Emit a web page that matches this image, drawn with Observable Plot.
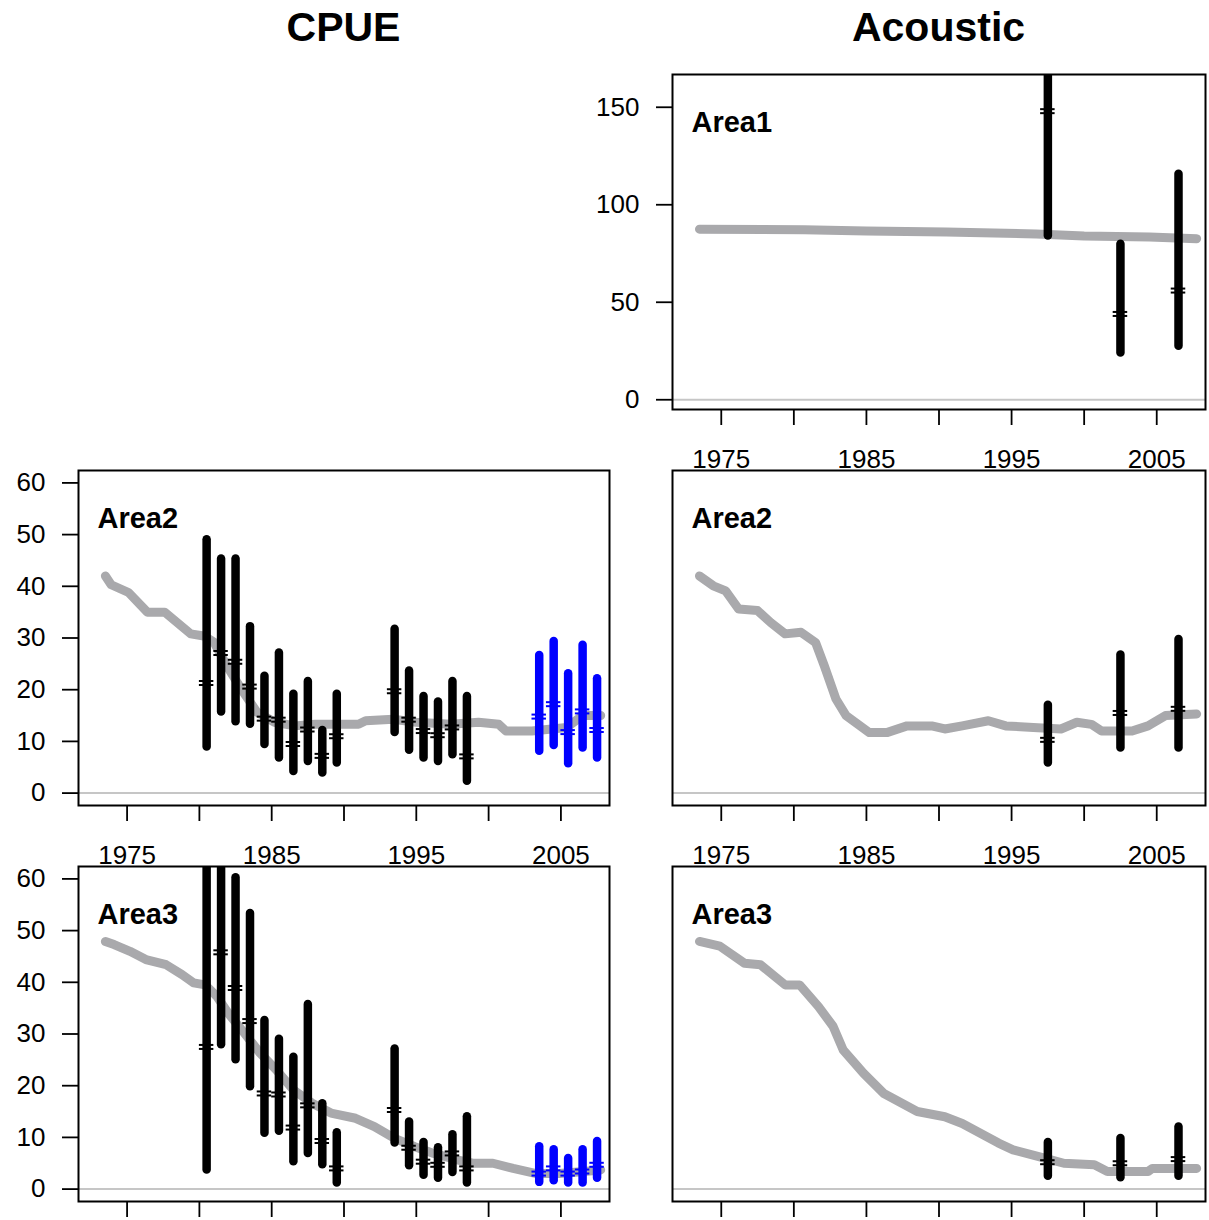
<!DOCTYPE html>
<html>
<head>
<meta charset="utf-8">
<script src="https://cdn.jsdelivr.net/npm/d3@7"></script>
<script src="https://cdn.jsdelivr.net/npm/@observablehq/plot@0.6"></script>
<style>
  body { margin: 0; width: 1209px; height: 1220px; overflow: hidden; background: white; position: relative; font-family: "Liberation Sans", Arial, sans-serif; }
  .ttl { position: absolute; top: 7px; font-size: 41px; font-weight: bold; line-height: 1; text-align: center; color: black; }
  .pnl { position: absolute; }
</style>
</head>
<body>
<div id="root"></div>
<script>
// ---------------- data ----------------
const columnTitles = ["CPUE", "Acoustic"];
const xDomain = [1971.64, 2008.36];
const xTickYears = [1975, 1980, 1985, 1990, 1995, 2000, 2005];
const xLabelYears = [1975, 1985, 1995, 2005];
const yTicksSmall = [0, 10, 20, 30, 40, 50, 60];
const yTicksLarge = [0, 50, 100, 150];
const yDomainSmall = [-2.4, 62.4];
const yDomainLarge = [-5.0, 166.8];

// CPUE survey years (mid-year) and group (old series / recent series)
const cpueYears = [1980.5, 1981.5, 1982.5, 1983.5, 1984.5, 1985.5, 1986.5, 1987.5, 1988.5, 1989.5,
                   1993.5, 1994.5, 1995.5, 1996.5, 1997.5, 1998.5,
                   2003.5, 2004.5, 2005.5, 2006.5, 2007.5];
const cpueGroup = ["old","old","old","old","old","old","old","old","old","old",
                   "old","old","old","old","old","old",
                   "recent","recent","recent","recent","recent"];

const cpueArea2Est = [21.3, 27.1, 25.4, 20.6, 14.4, 14.2, 9.5, 12.3, 7.2, 11.0, 19.7, 14.2, 12.0, 11.2, 12.7, 7.1, 14.8, 17.2, 11.8, 15.8, 12.2];
const cpueArea2Lo  = [8.9, 15.7, 13.8, 13.3, 9.4, 6.8, 4.2, 6.1, 3.9, 5.8, 11.7, 8.3, 6.8, 6.1, 7.4, 2.3, 8.1, 9.2, 5.7, 8.7, 6.8];
const cpueArea2Hi  = [49.0, 45.3, 45.3, 32.2, 22.6, 27.1, 19.1, 21.6, 12.1, 19.1, 31.7, 23.6, 18.7, 17.6, 21.6, 18.7, 26.6, 29.3, 23.1, 28.6, 22.1];

const cpueArea3Est = [27.5, 45.8, 38.9, 32.5, 18.5, 18.3, 11.9, 16.2, 9.3, 4.0, 15.3, 8.0, 5.3, 4.7, 6.9, 4.0, 3.0, 4.0, 3.0, 3.4, 4.7];
const cpueArea3Lo  = [3.7, 27.9, 25.0, 19.8, 10.8, 11.2, 5.3, 6.9, 4.7, 1.2, 8.9, 4.5, 2.7, 2.1, 3.2, 1.2, 1.3, 1.6, 1.2, 1.2, 2.1];
const cpueArea3Hi  = [70.0, 68.0, 60.2, 53.3, 32.6, 29.0, 25.5, 35.7, 16.5, 10.9, 27.1, 13.0, 9.0, 8.0, 10.5, 14.0, 8.2, 7.6, 5.9, 7.6, 9.2];

// Acoustic survey years
const acYears = [1997.5, 2002.5, 2006.5];
const acGroup = ["old", "old", "old"];
const acArea1Est = [148.0, 44.0, 56.0];
const acArea1Lo  = [84.0, 24.0, 27.4];
const acArea1Hi  = [185.0, 79.7, 115.7];
const acArea2Est = [10.3, 15.5, 16.3];
const acArea2Lo  = [5.8, 8.7, 8.7];
const acArea2Hi  = [17.0, 26.7, 29.7];
const acArea3Est = [5.2, 5.0, 5.8];
const acArea3Lo  = [2.5, 2.2, 2.5];
const acArea3Hi  = [9.0, 9.8, 12.0];

// Fitted trajectories (year, value)
const fitCpueArea2Year = [1973.5, 1973.9, 1975.1, 1976.4, 1977.6, 1979.4, 1980.3, 1981.0, 1981.9, 1982.9, 1984.0, 1985.2, 1986.6, 1988.0, 1991.0, 1991.5, 1993.4, 1995.0, 1997.4, 1999.3, 2000.7, 2001.2, 2003.0, 2005.4, 2006.5, 2007.75];
const fitCpueArea2Val  = [42.0, 40.3, 38.8, 35.0, 35.0, 30.8, 30.4, 29.2, 24.6, 20.1, 15.6, 13.7, 13.0, 13.3, 13.3, 14.0, 14.3, 13.7, 13.3, 13.7, 13.3, 12.0, 12.0, 12.7, 15.0, 15.0];

const fitAcArea2Year = [1973.5, 1974.45, 1975.3, 1976.2, 1977.5, 1978.4, 1979.4, 1980.5, 1981.5, 1982.1, 1982.9, 1983.6, 1985.2, 1986.4, 1987.8, 1989.5, 1990.4, 1991.6, 1993.4, 1994.6, 1996.5, 1998.4, 1999.5, 2000.5, 2001.2, 2003.3, 2004.4, 2005.6, 2007.75];
const fitAcArea2Val  = [42.0, 40.1, 39.1, 35.6, 35.3, 33.0, 30.8, 31.1, 29.1, 24.6, 18.2, 15.0, 11.7, 11.7, 13.0, 13.0, 12.4, 13.0, 14.0, 13.0, 12.7, 12.4, 13.7, 13.3, 12.0, 12.0, 13.0, 15.0, 15.3];

const fitCpueArea3Year = [1973.5, 1974.1, 1975.2, 1976.3, 1977.7, 1978.8, 1979.6, 1980.4, 1981.2, 1982.0, 1983.1, 1984.2, 1985.3, 1986.5, 1987.8, 1989.1, 1990.8, 1992.1, 1993.5, 1994.9, 1996.2, 1997.9, 1998.9, 2000.3, 2001.7, 2003.3, 2004.9, 2006.6, 2007.75];
const fitCpueArea3Val  = [47.9, 47.3, 46.0, 44.4, 43.4, 41.5, 39.9, 39.5, 37.3, 34.0, 30.2, 26.3, 23.1, 19.2, 16.6, 14.7, 13.7, 12.1, 9.8, 8.2, 6.9, 5.6, 5.0, 5.0, 4.0, 3.0, 3.0, 3.4, 3.7];

const fitAcArea3Year = [1973.5, 1974.9, 1976.6, 1977.7, 1979.4, 1980.4, 1981.7, 1982.7, 1983.4, 1984.8, 1986.2, 1988.5, 1990.4, 1991.6, 1994.1, 1995.1, 1997.4, 1998.6, 2000.7, 2001.6, 2004.4, 2004.7, 2007.75];
const fitAcArea3Val  = [47.9, 47.0, 43.7, 43.4, 39.5, 39.5, 35.3, 31.5, 26.9, 22.4, 18.5, 15.0, 14.0, 12.7, 8.9, 7.6, 5.9, 5.0, 4.7, 3.4, 3.4, 4.0, 4.0];

const fitAcArea1Year = [1973.5, 1980.7, 1985.0, 1990.5, 1996.7, 2000.0, 2004.5, 2007.75];
const fitAcArea1Val  = [87.5, 87.2, 86.6, 86.0, 85.0, 84.0, 83.5, 82.6];

// ---------------- helpers ----------------
const zip2 = (xs, ys) => xs.map((x, i) => ({year: x, value: ys[i]}));
const barsTable = (years, est, lo, hi, group) =>
  years.map((y, i) => ({year: y, est: est[i], lo: lo[i], hi: hi[i], group: group[i]}));

const FONT = "'Liberation Sans', Arial, sans-serif";
const COL = {
  cpue: {left: 0, width: 612, marginLeft: 78, marginRight: 3},
  ac:   {left: 600, width: 608, marginLeft: 72, marginRight: 3}
};
const ROW_FRAME_TOP = [74, 470, 866];
const FRAME_H = 335, MT = 10, MB = 62;

function panel({col, row, label, yDomain, yTicks, showY, showXLabels, fit, bars}) {
  const c = COL[col];
  const marks = [
    Plot.ruleY([0], {stroke: "#c6c6c6", strokeWidth: 2}),
    Plot.line(fit, {x: "year", y: "value", stroke: "#a9a9ac", strokeWidth: 9,
                    strokeLinecap: "round", strokeLinejoin: "round", clip: true}),
    Plot.ruleX(bars, {x: "year", y1: "lo", y2: "hi", stroke: "group", strokeWidth: 8.5,
                      strokeLinecap: "round", clip: true}),
    Plot.ruleY(bars, {y: "est", x1: d => d.year - 0.5, x2: d => d.year + 0.5, dy: -2,
                      stroke: "group", strokeWidth: 2, clip: true}),
    Plot.ruleY(bars, {y: "est", x1: d => d.year - 0.5, x2: d => d.year + 0.5, dy: 2,
                      stroke: "group", strokeWidth: 2, clip: true}),
    Plot.frame({stroke: "black", strokeWidth: 2}),
    Plot.axisX(xTickYears, {tickSize: 16, tickPadding: 24, strokeWidth: 1.8, fontSize: 26,
                            label: null,
                            tickFormat: d => (showXLabels && xLabelYears.includes(d)) ? String(d) : ""}),
    Plot.text([label], {frameAnchor: "top-left", dx: 19, dy: 37, fontSize: 29, fontWeight: "bold",
                        lineAnchor: "top", textAnchor: "start", fill: "black"})
  ];
  if (showY) {
    marks.push(Plot.axisY(yTicks, {tickSize: 16, tickPadding: 17, strokeWidth: 1.8, fontSize: 26,
                                   label: null, tickFormat: d => String(d)}));
  }
  const svg = Plot.plot({
    width: c.width,
    height: MT + FRAME_H + MB,
    marginLeft: c.marginLeft, marginRight: c.marginRight,
    marginTop: MT, marginBottom: MB,
    x: {domain: xDomain},
    y: {domain: yDomain, axis: showY ? undefined : null},
    color: {domain: ["old", "recent"], range: ["black", "#0000ff"]},
    style: {fontFamily: FONT, fontSize: "26px", background: "transparent", overflow: "visible", color: "black"},
    marks
  });
  const wrap = document.createElement("div");
  wrap.className = "pnl";
  wrap.style.left = c.left + "px";
  wrap.style.top = (ROW_FRAME_TOP[row] - MT) + "px";
  wrap.appendChild(svg);
  return wrap;
}

const root = document.getElementById("root");

// titles
[["cpue", columnTitles[0]], ["ac", columnTitles[1]]].forEach(([k, t]) => {
  const c = COL[k];
  const d = document.createElement("div");
  d.className = "ttl";
  d.textContent = t;
  d.style.left = (c.left + c.marginLeft) + "px";
  d.style.width = (c.width - c.marginLeft - c.marginRight) + "px";
  root.appendChild(d);
});

root.appendChild(panel({col: "ac", row: 0, label: "Area1", yDomain: yDomainLarge, yTicks: yTicksLarge, showY: true, showXLabels: true,
  fit: zip2(fitAcArea1Year, fitAcArea1Val), bars: barsTable(acYears, acArea1Est, acArea1Lo, acArea1Hi, acGroup)}));
root.appendChild(panel({col: "cpue", row: 1, label: "Area2", yDomain: yDomainSmall, yTicks: yTicksSmall, showY: true, showXLabels: true,
  fit: zip2(fitCpueArea2Year, fitCpueArea2Val), bars: barsTable(cpueYears, cpueArea2Est, cpueArea2Lo, cpueArea2Hi, cpueGroup)}));
root.appendChild(panel({col: "ac", row: 1, label: "Area2", yDomain: yDomainSmall, yTicks: yTicksSmall, showY: false, showXLabels: true,
  fit: zip2(fitAcArea2Year, fitAcArea2Val), bars: barsTable(acYears, acArea2Est, acArea2Lo, acArea2Hi, acGroup)}));
root.appendChild(panel({col: "cpue", row: 2, label: "Area3", yDomain: yDomainSmall, yTicks: yTicksSmall, showY: true, showXLabels: false,
  fit: zip2(fitCpueArea3Year, fitCpueArea3Val), bars: barsTable(cpueYears, cpueArea3Est, cpueArea3Lo, cpueArea3Hi, cpueGroup)}));
root.appendChild(panel({col: "ac", row: 2, label: "Area3", yDomain: yDomainSmall, yTicks: yTicksSmall, showY: false, showXLabels: false,
  fit: zip2(fitAcArea3Year, fitAcArea3Val), bars: barsTable(acYears, acArea3Est, acArea3Lo, acArea3Hi, acGroup)}));
</script>
</body>
</html>
